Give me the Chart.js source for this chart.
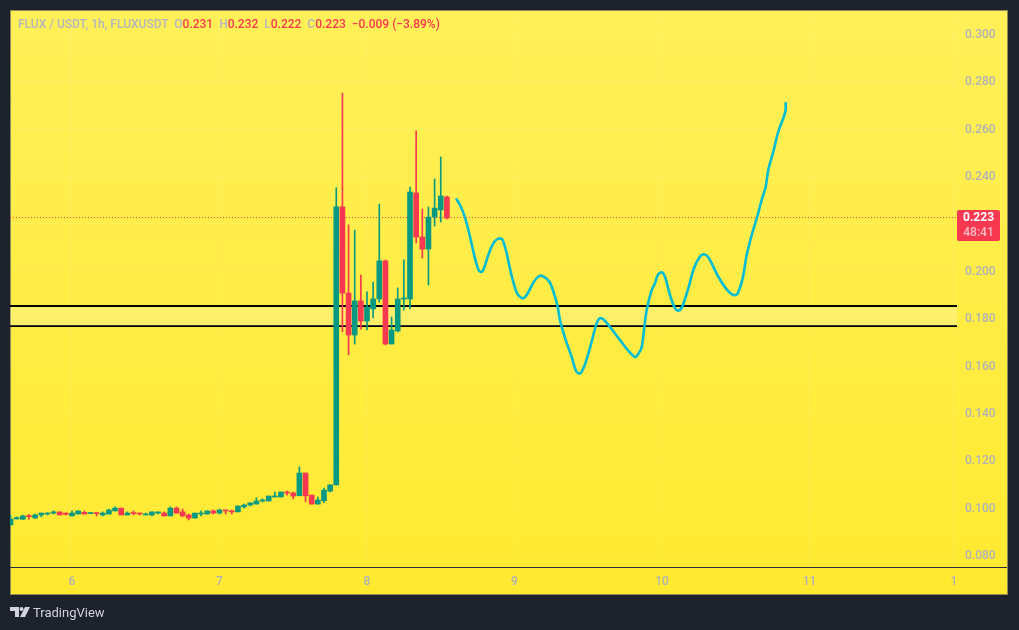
<!DOCTYPE html>
<html>
<head>
<meta charset="utf-8">
<title>FLUX / USDT</title>
<script src="https://cdn.jsdelivr.net/npm/chart.js@4/dist/chart.umd.js"></script>
<style>
  html, body { margin: 0; padding: 0; background: #1e222d; width: 1019px; height: 630px; overflow: hidden; }
  #box { position: absolute; left: 10px; top: 10px; width: 998px; height: 585px;
         background: linear-gradient(180deg, #fff059 0%, #ffe930 100%); box-shadow: inset 0 0 0 1px #8d8b52; }
  #chart { position: absolute; left: 0; top: 0; }
  #legend { position: absolute; left: 18px; top: 17px; font: 500 12px Roboto, sans-serif; color: #b2b5be; white-space: pre; }
  #legend b { font-weight: 500; color: #f63850; }
  #logo { position: absolute; left: 10px; top: 607px; }
  #brand { position: absolute; left: 33px; top: 605px; font: 13px Roboto, sans-serif; color: #d1d4dc; }
</style>
</head>
<body>
<div id="box"></div>
<canvas id="chart" width="1019" height="630"></canvas>
<div id="legend">FLUX / USDT, 1h, FLUXUSDT  O<b>0.231</b>  H<b>0.232</b>  L<b>0.222</b>  C<b>0.223</b>  <b>−0.009 (−3.89%)</b></div>
<svg id="logo" width="20" height="11" viewBox="0 0 20 11"><path fill="#d1d4dc" d="M0 0h9v10H5V4H0z"/><circle fill="#d1d4dc" cx="11.5" cy="2" r="2"/><path fill="#d1d4dc" d="M15 0h5l-5 10h-5z"/></svg>
<div id="brand">TradingView</div>
<script>
// Hourly candles, hour 0 is the start of day 6
const opens = [
  .0927, .0952, .0951, .0966, .0956, .0969, .0973, .0977, .0982, .0975,
  .0965, .0973, .0980, .0975, .0977, .0969, .0973, .0986, .0998, .0969,
  .0977, .0977, .0969, .0969, .0977, .0977, .0965, .0998, .0982, .0969,
  .0956, .0973, .0973, .0986, .0977, .0990, .0986, .0982, .1003, .1011,
  .1015, .1028, .1028, .1045, .1045, .1065, .1062, .1050, .1146, .1053,
  .1015, .1029, .1070, .1096, .2270, .1906, .1729, .1873, .1788, .1839,
  .1881, .2042, .1691, .1746, .1881, .1881, .2329, .2143, .2092, .2227,
  .2257, .2312
];
const highs = [
  .0968, .0961, .0969, .0972, .0973, .0977, .0979, .0986, .0982, .0979,
  .0986, .0986, .0986, .0977, .0977, .0982, .0994, .1003, .0998, .0982,
  .0986, .0977, .0977, .0982, .0982, .0982, .1003, .1003, .0994, .0973,
  .0977, .0986, .0986, .0990, .0994, .0990, .0990, .1007, .1015, .1020,
  .1041, .1037, .1049, .1066, .1066, .1070, .1066, .1172, .1146, .1053,
  .1045, .1083, .1096, .2350, .2751, .2194, .2172, .1982, .1911, .1953,
  .2282, .2046, .1805, .1928, .2046, .2354, .2591, .2261, .2270, .2388,
  .2481, .2316
];
const lows = [
  .0927, .0952, .0951, .0951, .0956, .0961, .0969, .0973, .0969, .0969,
  .0965, .0973, .0973, .0975, .0965, .0965, .0973, .0986, .0969, .0969,
  .0969, .0969, .0969, .0965, .0973, .0965, .0965, .0977, .0961, .0948,
  .0956, .0965, .0973, .0973, .0973, .0973, .0973, .0982, .0998, .1007,
  .1015, .1024, .1028, .1045, .1045, .1053, .1037, .1050, .1025, .1015,
  .1015, .1021, .1066, .1096, .1743, .1645, .1691, .1754, .1750, .1801,
  .1868, .1687, .1691, .1742, .1835, .1839, .2118, .2054, .1940, .2189,
  .2206, .2219
];
const closes = [
  .0952, .0958, .0965, .0962, .0969, .0977, .0977, .0982, .0969, .0972,
  .0977, .0986, .0973, .0977, .0975, .0977, .0990, .0998, .0969, .0977,
  .0975, .0973, .0973, .0982, .0982, .0965, .0998, .0977, .0965, .0956,
  .0977, .0977, .0986, .0977, .0990, .0986, .0982, .1007, .1011, .1020,
  .1028, .1032, .1049, .1049, .1066, .1062, .1049, .1146, .1050, .1015,
  .1032, .1074, .1096, .2270, .1906, .1729, .1873, .1788, .1847, .1881,
  .2042, .1691, .1750, .1881, .1885, .2333, .2143, .2092, .2227, .2265,
  .2316, .2223
];
const firstHour = -10;
const candleHours = opens.map((_, i) => firstHour + i);

// Hand drawn forecast line
const forecastHours = [
  62.48, 63.13, 63.94, 64.76, 65.57, 66.11, 66.50, 66.92, 67.74, 68.55, 69.36, 70.01, 70.73, 71.38,
  72.19, 72.73, 73.43, 74.08, 75.06, 75.87, 76.59, 77.77, 78.96, 79.40, 80.33, 81.30, 82.00, 82.54,
  83.03, 83.74, 84.56, 85.37, 85.91, 86.72, 89.16, 90.51, 91.60, 92.14, 92.69, 93.07, 93.51, 94.32,
  94.86, 95.30, 95.95, 96.49, 97.30, 98.11, 98.65, 99.30, 100.28, 101.20, 102.18, 102.88, 103.64,
  105.16, 106.52, 107.60, 108.25, 109.12, 109.78, 110.59, 111.50, 112.22, 112.87, 113.29, 114.11,
  114.92, 115.73, 116.12, 116.12
];
const forecastValues = [
  .2306, .2278, .2226, .2144, .2053, .2006, .1995, .2004, .2067, .2116, .2136, .2133, .2074, .1996,
  .1919, .1894, .1884, .1902, .1950, .1975, .1978, .1950, .1856, .1792, .1708, .1637, .1578, .1566,
  .1578, .1626, .1701, .1778, .1800, .1789, .1708, .1663, .1636, .1649, .1677, .1750, .1835, .1919,
  .1947, .1982, .1994, .1975, .1898, .1842, .1832, .1849, .1926, .2011, .2060, .2070, .2053,
  .1975, .1922, .1898, .1902, .1968, .2067, .2151, .2229, .2299, .2355, .2426, .2503,
  .2588, .2644, .2679, .2712
];

const zoneTop = 0.1852;
const zoneBottom = 0.1767;
const lastPrice = 0.223;
const priceLine = 0.2225;
const countdown = "48:41";

const dayTicks = [0, 24, 48, 72, 96, 120, 143.5];
const dayLabels = ["6", "7", "8", "9", "10", "11", "1"];
const priceTicks = [0.08, 0.10, 0.12, 0.14, 0.16, 0.18, 0.20, 0.22, 0.24, 0.26, 0.28, 0.30];

const xMin = -10.088, xMax = 144;
const yMin = 0.07493, yMax = 0.31015;
const green = "#089981", red = "#f63850", tickColor = "#aeb1ba";

const candleColors = opens.map((o, i) => closes[i] >= o ? green : red);

// price label on the axis and the dark line above the time axis
const overlay = {
  id: "overlay",
  afterDraw(chart) {
    const { ctx, chartArea, scales } = chart;
    const y = Math.round(scales.y.getPixelForValue(priceLine));
    ctx.save();
    ctx.fillStyle = "#2a2e39";
    ctx.fillRect(chartArea.left, chartArea.bottom, 997, 1);
    ctx.fillStyle = red;
    ctx.beginPath();
    ctx.roundRect(chartArea.right, y - 8, 43, 31, 2);
    ctx.fill();
    ctx.textAlign = "center";
    ctx.textBaseline = "middle";
    ctx.font = "bold 12px Roboto, sans-serif";
    ctx.fillStyle = "#ffffff";
    ctx.fillText(lastPrice.toFixed(3), chartArea.right + 21.5, y);
    ctx.font = "500 12px Roboto, sans-serif";
    ctx.fillStyle = "rgba(255,255,255,0.65)";
    ctx.fillText(countdown, chartArea.right + 21.5, y + 15);
    ctx.restore();
  }
};

new Chart(document.getElementById("chart"), {
  type: "bar",
  data: {
    datasets: [
      // drawn top to bottom by "order": forecast over candles over the zone
      {
        type: "line",
        data: forecastHours.map((h, i) => ({ x: h, y: forecastValues[i] })),
        borderColor: "#00bcd4",
        borderWidth: 2.6,
        pointRadius: 0,
        tension: 0.3,
        order: 1
      },
      {
        data: candleHours.map((h, i) => ({ x: h, y: [opens[i], closes[i]] })),
        backgroundColor: candleColors,
        barThickness: 5,
        minBarLength: 1,
        grouped: false,
        order: 2
      },
      {
        data: candleHours.map((h, i) => ({ x: h, y: [lows[i], highs[i]] })),
        backgroundColor: candleColors,
        barThickness: 1,
        minBarLength: 1,
        grouped: false,
        order: 3
      },
      {
        type: "line",
        data: [{ x: xMin, y: priceLine }, { x: xMax, y: priceLine }],
        borderColor: red,
        borderWidth: 1,
        borderDash: [1, 2],
        pointRadius: 0,
        order: 4
      },
      {
        type: "line",
        data: [{ x: xMin, y: zoneTop }, { x: xMax, y: zoneTop }],
        borderColor: "#000000",
        borderWidth: 2,
        pointRadius: 0,
        fill: { target: { value: zoneBottom }, above: "rgba(255,255,255,0.2)" },
        order: 5
      },
      {
        type: "line",
        data: [{ x: xMin, y: zoneBottom }, { x: xMax, y: zoneBottom }],
        borderColor: "#000000",
        borderWidth: 2,
        pointRadius: 0,
        order: 5
      }
    ]
  },
  options: {
    responsive: false,
    animation: false,
    events: [],
    layout: { padding: { left: 10, top: 10, right: 12, bottom: 36 } },
    plugins: { legend: { display: false }, tooltip: { enabled: false } },
    scales: {
      x: {
        type: "linear",
        min: xMin,
        max: xMax,
        offset: false,
        border: { display: false },
        grid: { offset: false, color: "rgba(255,255,255,0.08)", drawTicks: false },
        afterBuildTicks: axis => { axis.ticks = dayTicks.map(v => ({ value: v })); },
        afterFit: axis => { axis.height = 27; axis.paddingLeft = 0; axis.paddingRight = 0; },
        ticks: {
          autoSkip: false,
          maxRotation: 0,
          padding: 8,
          color: tickColor,
          font: { family: "Roboto, sans-serif", size: 12, weight: "500" },
          callback: v => dayLabels[dayTicks.indexOf(v)]
        }
      },
      y: {
        position: "right",
        min: yMin,
        max: yMax,
        border: { display: false },
        grid: { color: "rgba(255,255,255,0.08)", drawTicks: false },
        afterBuildTicks: axis => { axis.ticks = priceTicks.map(v => ({ value: v })); },
        afterFit: axis => { axis.width = 50; axis.paddingTop = 0; axis.paddingBottom = 0; },
        ticks: {
          padding: 8,
          labelOffset: 1,
          color: tickColor,
          font: { family: "Roboto, sans-serif", size: 12, weight: "500" },
          callback: v => v.toFixed(3)
        }
      }
    }
  },
  plugins: [overlay]
});
</script>
</body>
</html>
